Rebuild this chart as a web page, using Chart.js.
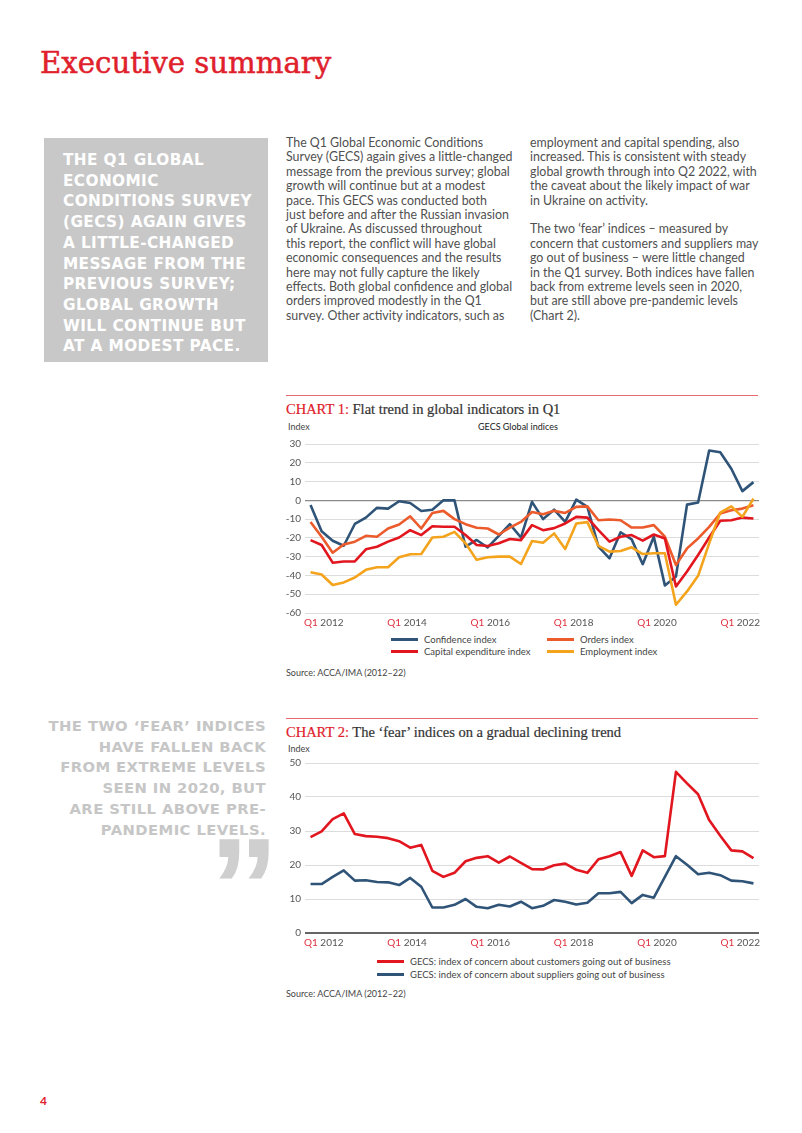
<!DOCTYPE html>
<html>
<head>
<meta charset="utf-8">
<script src="https://cdn.jsdelivr.net/npm/chart.js@4"></script>
<style>
  body { margin: 0; background: #fff; }
  #pagina { position: relative; width: 802px; height: 1133px; overflow: hidden; font-family: Lato, "Noto Sans", sans-serif; }
  .abs { position: absolute; }
  #titulo { left: 40px; top: 46px; font-family: "DejaVu Serif", "Liberation Serif", serif; font-size: 29.2px; color: #e0202b; -webkit-text-stroke: 0.5px #e0202b; }
  #caja { left: 44px; top: 138px; width: 224px; height: 224px; background: #c8c8c8; }
  #cajaTexto { left: 63px; top: 150px; color: #fff; font-family: "DejaVu Sans", sans-serif; font-weight: bold; font-size: 15.3px; line-height: 20.7px; white-space: nowrap; letter-spacing: 0.4px; }
  .col { top: 136px; font-size: 12.4px; line-height: 14.4px; color: #505050; white-space: nowrap; }
  #cita { right: 536px; top: 716px; text-align: right; color: #c6c6c6; font-family: "DejaVu Sans", sans-serif; font-weight: bold; font-size: 14.8px; line-height: 20.7px; white-space: nowrap; letter-spacing: 0.4px; }
  #comillas { left: 209px; top: 817px; color: #cfcfcf; font-family: "Liberation Sans", Arial, sans-serif; font-weight: bold; font-size: 140px; line-height: 140px; }
  .regla { left: 286px; width: 472px; height: 1px; background: #e66a72; }
  .tituloGraf { left: 286px; font-family: "Liberation Serif", serif; font-size: 14.5px; color: #333; white-space: nowrap; -webkit-text-stroke: 0.2px #333; }
  .tituloGraf span { color: #e0202b; -webkit-text-stroke: 0.2px #e0202b; }
  .chico { font-size: 9px; color: #444; white-space: nowrap; }
  .lienzo { left: 286px; width: 476px; height: 200px; }
  .leyenda { font-size: 9.5px; color: #444; white-space: nowrap; }
  .leyenda div { position: absolute; display: flex; align-items: center; }
  .leyenda i { display: inline-block; width: 27px; height: 3px; margin-right: 6px; }
  #numPag { left: 40px; top: 1093px; color: #e0202b; font-weight: bold; font-size: 12px; }
</style>
</head>
<body>
<div id="pagina">
  <div id="titulo" class="abs">Executive summary</div>

  <div id="caja" class="abs"></div>
  <div id="cajaTexto" class="abs">THE Q1 GLOBAL<br>ECONOMIC<br>CONDITIONS SURVEY<br>(GECS) AGAIN GIVES<br>A LITTLE-CHANGED<br>MESSAGE FROM THE<br>PREVIOUS SURVEY;<br>GLOBAL GROWTH<br>WILL CONTINUE BUT<br>AT A MODEST PACE.</div>

  <div class="abs col" style="left:286px">The Q1 Global Economic Conditions<br>Survey (GECS) again gives a little-changed<br>message from the previous survey; global<br>growth will continue but at a modest<br>pace. This GECS was conducted both<br>just before and after the Russian invasion<br>of Ukraine. As discussed throughout<br>this report, the conflict will have global<br>economic consequences and the results<br>here may not fully capture the likely<br>effects. Both global confidence and global<br>orders improved modestly in the Q1<br>survey. Other activity indicators, such as</div>
  <div class="abs col" style="left:530px">employment and capital spending, also<br>increased. This is consistent with steady<br>global growth through into Q2 2022, with<br>the caveat about the likely impact of war<br>in Ukraine on activity.<br><br>The two ‘fear’ indices – measured by<br>concern that customers and suppliers may<br>go out of business – were little changed<br>in the Q1 survey. Both indices have fallen<br>back from extreme levels seen in 2020,<br>but are still above pre-pandemic levels<br>(Chart 2).</div>

  <div id="cita" class="abs">THE TWO ‘FEAR’ INDICES<br>HAVE FALLEN BACK<br>FROM EXTREME LEVELS<br>SEEN IN 2020, BUT<br>ARE STILL ABOVE PRE-<br>PANDEMIC LEVELS.</div>
  <div id="comillas" class="abs">”</div>

  <!-- grafico 1 -->
  <div class="abs regla" style="top:395px"></div>
  <div class="abs tituloGraf" style="top:401px"><span>CHART 1:</span> Flat trend in global indicators in Q1</div>
  <div class="abs chico" style="left:288px; top:421px">Index</div>
  <div class="abs chico" style="left:478px; top:421px; color:#222">GECS Global indices</div>
  <div class="abs lienzo" style="top:434px"><canvas id="graf1"></canvas></div>
  <div id="ley1" class="abs leyenda" style="left:0; top:0"></div>
  <div class="abs chico" style="left:286px; top:667px">Source: ACCA/IMA (2012–22)</div>

  <!-- grafico 2 -->
  <div class="abs regla" style="top:718px"></div>
  <div class="abs tituloGraf" style="top:724px"><span>CHART 2:</span> The ‘fear’ indices on a gradual declining trend</div>
  <div class="abs chico" style="left:288px; top:743px">Index</div>
  <div class="abs lienzo" style="top:753px"><canvas id="graf2"></canvas></div>
  <div id="ley2" class="abs leyenda" style="left:0; top:0"></div>
  <div class="abs chico" style="left:286px; top:988px">Source: ACCA/IMA (2012–22)</div>

  <div id="numPag" class="abs">4</div>
</div>

<script>
// trimestres Q1 2012 .. Q1 2022
const trimestres = [];
for (let a = 2012; a <= 2022; a++) {
    for (let q = 1; q <= 4; q++) {
        if (a === 2022 && q > 1) break;
        trimestres.push(`Q${q} ${a}`);
    }
}
const aniosEje = ["2012", "2014", "2016", "2018", "2020", "2022"];

// grafico 1: GECS Global indices
const confianza = [-2.5, -16.5, -21.5, -24.2, -12.6, -9.2, -4, -4.4, -0.5, -1.4, -5.7, -5, 0, 0, -24.7, -21.1, -25.1, -18.9, -12.7, -19.8, -0.8, -10, -5, -11.5, 0.4, -3.5, -24.7, -30.9, -17, -20.8, -34, -19.4, -45.3, -40.6, -2.3, -1.2, 26.5, 25.6, 16.8, 4.9, 9.7];
const pedidos = [-11.5, -19.4, -27.9, -23.5, -22, -18.9, -19.4, -15, -12.9, -8.5, -15, -6.7, -5.6, -10, -12.7, -14.6, -15, -18.2, -14.5, -11.5, -6.2, -7.4, -5.6, -6.7, -3.5, -3.2, -10.6, -10.2, -10.6, -14.5, -14.5, -13.2, -19.4, -34.4, -25.6, -20.3, -14.1, -7, -5.3, -4.4, -2.6];
const inversion = [-21.2, -23.8, -33.2, -32.6, -32.5, -26.1, -24.7, -22, -19.8, -15.9, -18.5, -13.8, -14.1, -14.1, -18.5, -23.8, -24.3, -22.9, -20.6, -21.2, -13.2, -15.9, -14.8, -12.3, -8.8, -9.2, -15.9, -22, -19.4, -18.5, -21.5, -18.2, -20.3, -45.9, -37.9, -29.1, -19.8, -10.9, -10.6, -9.2, -9.7];
const empleo = [-38.3, -39.5, -45.1, -43.7, -41.1, -37, -35.6, -35.6, -30.3, -28.7, -28.6, -19.8, -19.4, -16.8, -22.9, -31.7, -30.3, -30, -30, -33.9, -21.7, -22.6, -17.6, -25.9, -12.3, -11.6, -24.3, -27.3, -27, -25, -28.6, -28.2, -28.2, -55.6, -48.5, -40.2, -22.9, -6.5, -3.2, -8.8, 0.9];

// grafico 2: indices de 'miedo'
const clientes = [28.2, 29.9, 33.5, 35.2, 29.1, 28.5, 28.3, 27.9, 27, 25.1, 25.9, 18.3, 16.5, 17.7, 21.1, 22.1, 22.6, 20.7, 22.5, 20.6, 18.8, 18.7, 19.9, 20.4, 18.6, 17.7, 21.7, 22.6, 23.8, 16.8, 24.3, 22.3, 22.6, 47.4, 44, 40.8, 33.2, 28.6, 24.3, 24, 22];
const proveedores = [14.4, 14.4, 16.5, 18.4, 15.4, 15.5, 15, 14.9, 14.1, 16.2, 13.6, 7.5, 7.5, 8.3, 10, 7.7, 7.3, 8.3, 7.8, 9.2, 7.3, 8, 9.7, 9.2, 8.4, 8.9, 11.7, 11.7, 12.1, 8.8, 11.2, 10.4, 16.5, 22.6, 20.1, 17.3, 17.7, 17, 15.4, 15.2, 14.6];

const AZUL = "#2f5478", ROJO = "#e2161f", NARANJA = "#eb5b2b", AMARILLO = "#f4a31c";

Chart.defaults.font.family = 'Lato, "Noto Sans", sans-serif';
Chart.defaults.animation = false;

// etiquetas del eje x: "Q1" en rojo + anio en gris, repartidas sobre el ancho del eje
const etiquetasQ1 = {
    id: "etiquetasQ1",
    afterDraw(chart, args, opts) {
        const { ctx, chartArea } = chart;
        ctx.save();
        ctx.font = '10px Lato, "Noto Sans", sans-serif';
        ctx.textBaseline = "middle";
        const w = ctx.measureText("Q1 2012").width;
        const ini = chartArea.left - 1 + w / 2;
        const fin = chartArea.right + 1 - w / 2;
        aniosEje.forEach((anio, k) => {
            const cx = ini + k * (fin - ini) / (aniosEje.length - 1);
            let x = cx - w / 2;
            ctx.fillStyle = "#e0313f";
            ctx.fillText("Q1 ", x, chartArea.bottom + opts.dy);
            x += ctx.measureText("Q1 ").width;
            ctx.fillStyle = "#555";
            ctx.fillText(anio, x, chartArea.bottom + opts.dy);
        });
        ctx.restore();
    }
};

function serie(label, data, color) {
    return { label, data, borderColor: color, backgroundColor: color, borderWidth: 2.6, pointRadius: 0, tension: 0, borderJoinStyle: "round" };
}

function opciones(min, max, pad, colorCero, anchoCero) {
    return {
        responsive: true,
        maintainAspectRatio: false,
        layout: { padding: pad },
        plugins: { legend: { display: false }, tooltip: { enabled: false }, etiquetasQ1: { dy: 10 } },
        scales: {
            x: { display: false, offset: true },
            y: {
                min, max,
                border: { display: false },
                grid: {
                    drawTicks: false,
                    color: c => c.tick.value === 0 ? colorCero : "#dcdcdc",
                    lineWidth: c => c.tick.value === 0 ? anchoCero : 1
                },
                ticks: { stepSize: 10, padding: 4, color: "#555", font: { size: 10 } },
                afterFit: s => { s.width = 19; }
            }
        }
    };
}

const graf1 = new Chart(document.getElementById("graf1"), {
    type: "line",
    data: {
        labels: trimestres,
        datasets: [
            serie("Employment index", empleo, AMARILLO),
            serie("Capital expenditure index", inversion, ROJO),
            serie("Orders index", pedidos, NARANJA),
            serie("Confidence index", confianza, AZUL)
        ]
    },
    options: opciones(-60, 30, { top: 9, bottom: 21, left: 0, right: 3 }, "#8a8a8a", 1.3),
    plugins: [etiquetasQ1]
});

const graf2 = new Chart(document.getElementById("graf2"), {
    type: "line",
    data: {
        labels: trimestres,
        datasets: [
            serie("GECS: index of concern about customers going out of business", clientes, ROJO),
            serie("GECS: index of concern about suppliers going out of business", proveedores, AZUL)
        ]
    },
    options: opciones(0, 50, { top: 10, bottom: 20, left: 0, right: 3 }, "#666", 2),
    plugins: [etiquetasQ1]
});

// leyendas en HTML a partir de los datasets
function leyenda(id, chart, orden, posiciones) {
    const cont = document.getElementById(id);
    orden.forEach((idx, n) => {
        const ds = chart.data.datasets[idx];
        const d = document.createElement("div");
        d.style.left = posiciones[n][0] + "px";
        d.style.top = posiciones[n][1] + "px";
        d.innerHTML = `<i style="background:${ds.borderColor}"></i>${ds.label}`;
        cont.appendChild(d);
    });
}
leyenda("ley1", graf1, [3, 2, 1, 0], [[391, 634], [547, 634], [391, 646], [547, 646]]);
leyenda("ley2", graf2, [0, 1], [[377, 956], [377, 969]]);
</script>
</body>
</html>
